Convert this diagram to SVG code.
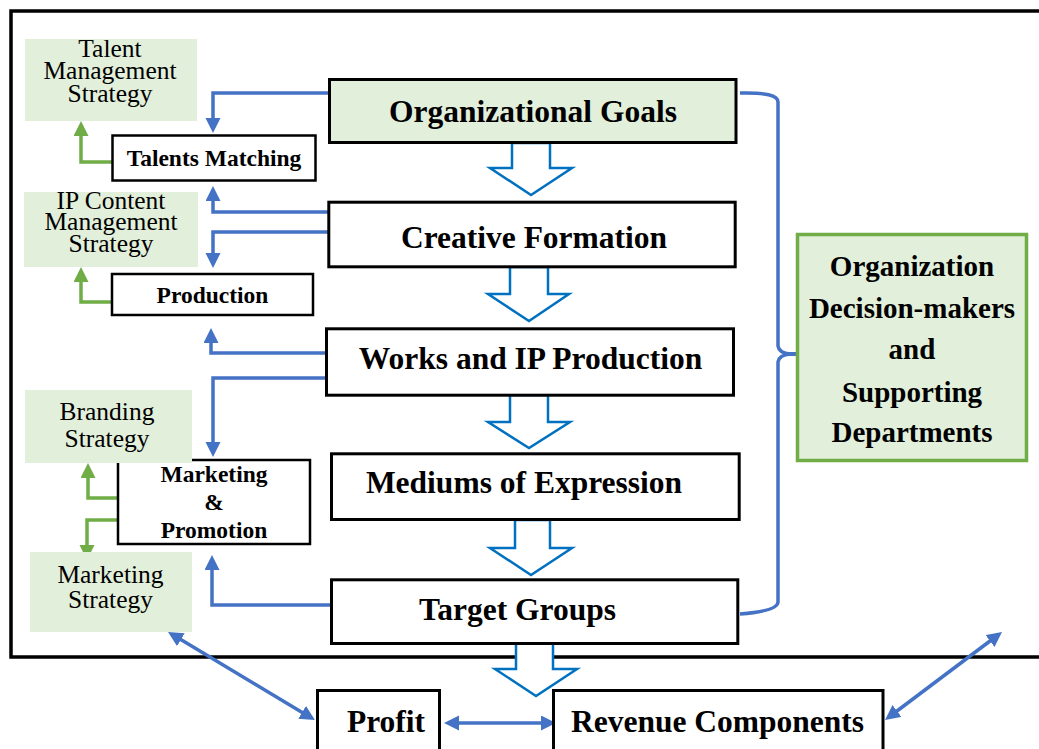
<svg xmlns="http://www.w3.org/2000/svg" width="1039" height="749" viewBox="0 0 1039 749">
<style>
  .bg{fill:#ffffff}
  .box{fill:#ffffff;stroke:#000;stroke-width:3}
  .gbox{fill:#e2efda;stroke:#000;stroke-width:3}
  .sbox{fill:#ffffff;stroke:#000;stroke-width:2.5}
  .strat{fill:#e2efda;stroke:none}
  .dept{fill:#e2efda;stroke:#70ad47;stroke-width:3.5}
  .big{font-family:"Liberation Serif","Times New Roman",serif;font-weight:bold;font-size:31.5px;fill:#000;text-anchor:middle}
  .dtxt{font-family:"Liberation Serif","Times New Roman",serif;font-weight:bold;font-size:29px;fill:#000;text-anchor:middle}
  .sm{font-family:"Liberation Serif","Times New Roman",serif;font-weight:bold;font-size:23.5px;fill:#000;text-anchor:middle}
  .reg{font-family:"Liberation Serif","Times New Roman",serif;font-size:25.5px;fill:#000;text-anchor:middle}
  .blk{fill:#ffffff;stroke:#0070c0;stroke-width:2.5;stroke-linejoin:miter}
  .blue{fill:none;stroke:#4472c4;stroke-width:3.5}
  .green{fill:none;stroke:#70ad47;stroke-width:3.5}
  .frame{fill:none;stroke:#000;stroke-width:3.5}
</style>
<defs>
  <marker id="ab" markerUnits="userSpaceOnUse" markerWidth="16" markerHeight="16" refX="5" refY="7.5" orient="auto-start-reverse">
    <path d="M0,0 L15,7.5 L0,15 z" fill="#4472c4"/>
  </marker>
  <marker id="ag" markerUnits="userSpaceOnUse" markerWidth="16" markerHeight="16" refX="5" refY="7.5" orient="auto">
    <path d="M0,0 L15,7.5 L0,15 z" fill="#70ad47"/>
  </marker>
</defs>
<rect class="bg" x="0" y="0" width="1039" height="749"/>
<path class="frame" d="M1039,11 H11 V657 H1039"/>

<g id="connectors">
  <polygon class="blk" points="512,143 550,143 550,168 572,168 531,195 490,168 512,168"/>
  <polygon class="blk" points="510,267 548,267 548,294 569,294 529,321 488,294 510,294"/>
  <polygon class="blk" points="510,395 548,395 548,422 570,422 529,448 488,422 510,422"/>
  <polygon class="blk" points="515,520 550,520 550,548 572,548 531,575 490,548 515,548"/>
  <polygon class="blk" points="516,643 553,643 553,669 577,669 536,696 495,669 516,669"/>
  <path class="blue" d="M330,93 H213 V123" marker-end="url(#ab)"/>
  <path class="blue" d="M328,212 H213 V196" marker-end="url(#ab)"/>
  <path class="blue" d="M328,232 H213 V258" marker-end="url(#ab)"/>
  <path class="blue" d="M325,353 H211 V338" marker-end="url(#ab)"/>
  <path class="blue" d="M325,378 H213 V447" marker-end="url(#ab)"/>
  <path class="blue" d="M332,605 H212 V565" marker-end="url(#ab)"/>
  <path class="green" d="M112,162 H81 V131" marker-end="url(#ag)"/>
  <path class="green" d="M112,302 H81 V277" marker-end="url(#ag)"/>
  <path class="green" d="M118,498 H88 V473" marker-end="url(#ag)"/>
  <path class="green" d="M118,520 H87 V550" marker-end="url(#ag)"/>
  <path class="blue" d="M176.6,637.1 L306.4,714.9" marker-start="url(#ab)" marker-end="url(#ab)"/>
  <path class="blue" d="M454,723 H546" marker-start="url(#ab)" marker-end="url(#ab)"/>
  <path class="blue" d="M893,714 L994,638" marker-start="url(#ab)" marker-end="url(#ab)"/>
  <path class="blue" d="M740,93 Q778,92 778,102 V346 Q779,353 790,354 Q779,355 778,362 V602 Q778,611 740,614"/>
  <path class="blue" d="M786,354 H818" style="stroke-width:4"/>
</g>

<g id="n-goals"><rect class="gbox" x="329.5" y="79.5" width="406.5" height="63"/><text class="big" x="533" y="122">Organizational Goals</text></g>
<g id="n-creative"><rect class="box" x="328.8" y="202.2" width="406.4" height="64.6"/><text class="big" x="534" y="248">Creative Formation</text></g>
<g id="n-works"><rect class="box" x="326.5" y="328.8" width="407" height="66.4"/><text class="big" x="530.5" y="369">Works and IP Production</text></g>
<g id="n-mediums"><rect class="box" x="331.5" y="453.8" width="407.7" height="65.7"/><text class="big" x="524" y="493">Mediums of Expression</text></g>
<g id="n-target"><rect class="box" x="331.5" y="579.8" width="406.3" height="63.7"/><text class="big" x="517.5" y="620">Target Groups</text></g>

<g id="n-talents"><rect class="sbox" x="112.5" y="135.5" width="203" height="45"/><text class="sm" x="214" y="166">Talents Matching</text></g>
<g id="n-production"><rect class="sbox" x="112" y="274" width="201" height="41"/><text class="sm" x="212.5" y="303">Production</text></g>
<g id="n-marketing"><rect class="sbox" x="118" y="460" width="192" height="84"/><text class="sm" x="214" y="482">Marketing</text><text class="sm" x="214" y="510">&amp;</text><text class="sm" x="214" y="538">Promotion</text></g>

<g id="n-talent-strategy"><rect class="strat" x="25" y="39" width="172" height="82"/><text class="reg" x="110" y="57">Talent</text><text class="reg" x="110" y="79">Management</text><text class="reg" x="110" y="102">Strategy</text></g>
<g id="n-ip-strategy"><rect class="strat" x="24" y="192" width="174" height="75"/><text class="reg" x="111" y="209">IP Content</text><text class="reg" x="111" y="230">Management</text><text class="reg" x="111" y="252">Strategy</text></g>
<g id="n-branding"><rect class="strat" x="25" y="390" width="167" height="73"/><text class="reg" x="107" y="420">Branding</text><text class="reg" x="107" y="447">Strategy</text></g>
<g id="n-marketing-strategy"><rect class="strat" x="30" y="552" width="162" height="80"/><text class="reg" x="110.5" y="583">Marketing</text><text class="reg" x="110.5" y="608">Strategy</text></g>

<g id="n-dept"><rect class="dept" x="797.5" y="234.5" width="229" height="226"/>
  <text class="dtxt" x="912" y="276">Organization</text>
  <text class="dtxt" x="912" y="318">Decision-makers</text>
  <text class="dtxt" x="912" y="359">and</text>
  <text class="dtxt" x="912" y="402">Supporting</text>
  <text class="dtxt" x="912" y="442">Departments</text>
</g>

<g id="n-profit"><rect class="box" x="317.5" y="690.5" width="122" height="70"/><text class="big" x="386" y="732">Profit</text></g>
<g id="n-revenue"><rect class="box" x="553.5" y="690.5" width="329.5" height="70"/><text class="big" x="717.5" y="732">Revenue Components</text></g>
</svg>
